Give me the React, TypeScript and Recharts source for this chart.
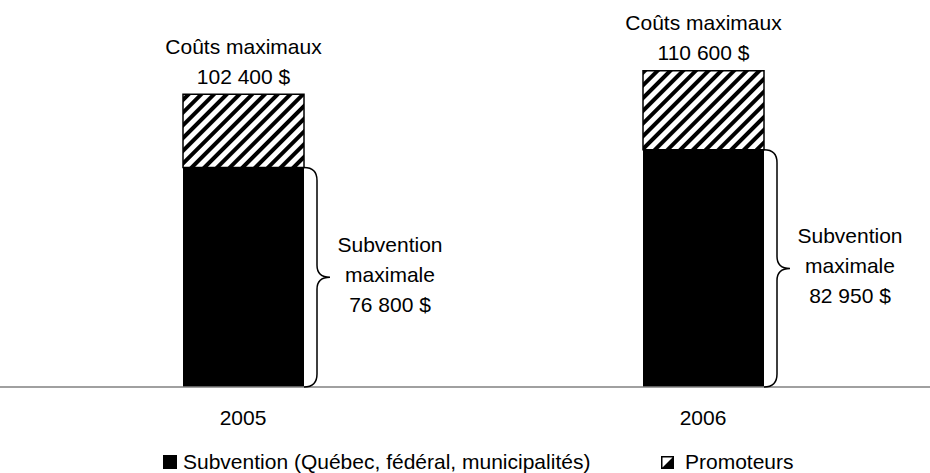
import { BarChart, Bar, XAxis, YAxis, LabelList, Legend } from "recharts";

const years = ["2005", "2006"];
const subvention = [76800, 82950];
const promoteurs = [25600, 27650];
const coutsMaximaux = [102400, 110600];

const data = years.map((year, i) => ({
  year,
  subvention: subvention[i],
  promoteurs: promoteurs[i],
  couts: coutsMaximaux[i],
}));

const FONT = "'Liberation Sans', Arial, sans-serif";
const FS = 21;

const fmt = (v: number) =>
  `${Math.floor(v / 1000)} ${String(v % 1000).padStart(3, "0")} $`;

const TopLabel = (props: any) => {
  const { x, y, width, index } = props;
  const cx = x + width / 2;
  return (
    <g fontFamily={FONT} fontSize={FS} fill="#000">
      <text x={cx} y={y - 48} textAnchor="middle" dominantBaseline="central">
        Coûts maximaux
      </text>
      <text x={cx} y={y - 18} textAnchor="middle" dominantBaseline="central">
        {fmt(coutsMaximaux[index])}
      </text>
    </g>
  );
};

const BraceLabel = (props: any) => {
  const { x, y, width, height, index } = props;
  const r = x + width;
  const t = y;
  const b = y + height;
  const m = (t + b) / 2;
  const vx = r + 13;
  const tip = r + 26;
  const d = `M ${r} ${t} Q ${vx} ${t} ${vx} ${t + 13} L ${vx} ${m - 12} Q ${vx} ${m} ${tip} ${m} Q ${vx} ${m} ${vx} ${m + 12} L ${vx} ${b - 13} Q ${vx} ${b} ${r} ${b}`;
  const tx = r + 86;
  return (
    <g>
      <path d={d} fill="none" stroke="#000" strokeWidth={1.5} />
      <g fontFamily={FONT} fontSize={FS} fill="#000" textAnchor="middle">
        <text x={tx} y={m - 33} dominantBaseline="central">Subvention</text>
        <text x={tx} y={m - 3} dominantBaseline="central">maximale</text>
        <text x={tx} y={m + 27} dominantBaseline="central">
          {fmt(subvention[index])}
        </text>
      </g>
    </g>
  );
};

const LegendContent = () => (
  <div
    style={{
      display: "flex",
      alignItems: "center",
      fontFamily: FONT,
      fontSize: FS,
      color: "#000",
      paddingLeft: 163,
      height: 24,
      lineHeight: "24px",
    }}
  >
    <div style={{ display: "flex", alignItems: "center", width: 498 }}>
      <svg width={14} height={14} style={{ marginRight: 6 }}>
        <rect x={0} y={0} width={14} height={14} fill="#000" />
      </svg>
      <span>Subvention (Québec, fédéral, municipalités)</span>
    </div>
    <div style={{ display: "flex", alignItems: "center" }}>
      <svg width={13} height={13} style={{ marginRight: 11 }}>
        <rect x={0.75} y={0.75} width={11.5} height={11.5} fill="#fff" stroke="#000" strokeWidth={1.5} />
        <polygon points="12,1 12,12 1,12" fill="#000" />
      </svg>
      <span>Promoteurs</span>
    </div>
  </div>
);

export default function App() {
  return (
    <div
      style={{
        position: "absolute",
        left: 0,
        top: 0,
        width: 930,
        height: 473,
        overflow: "hidden",
        background: "#fff",
      }}
    >
      <BarChart
        width={933}
        height={473}
        data={data}
        margin={{ top: 1, right: 0, bottom: 56, left: 0 }}
        barSize={121}
      >
        <defs>
          <pattern
            id="hatch"
            width="9"
            height="9"
            patternUnits="userSpaceOnUse"
            patternTransform="rotate(45)"
          >
            <rect width="9" height="9" fill="#fff" />
            <rect width="4" height="9" fill="#000" />
          </pattern>
        </defs>
        <XAxis
          dataKey="year"
          padding={{ left: 13, right: 0 }}
          axisLine={{ stroke: "#808080", strokeWidth: 1.5 }}
          tickLine={false}
          tickSize={0}
          tickMargin={23}
          tick={{ fill: "#000", fontSize: FS, fontFamily: FONT }}
        />
        <YAxis hide domain={[0, 135000]} allowDataOverflow />
        <Legend
          layout="horizontal"
          verticalAlign="middle"
          align="center"
          wrapperStyle={{ top: 450, left: 0, width: 930 }}
          content={LegendContent}
        />
        <Bar
          dataKey="subvention"
          stackId="a"
          fill="#000"
          isAnimationActive={false}
        >
          <LabelList dataKey="subvention" content={BraceLabel} />
        </Bar>
        <Bar
          dataKey="promoteurs"
          stackId="a"
          fill="url(#hatch)"
          stroke="#000"
          strokeWidth={1.5}
          isAnimationActive={false}
        >
          <LabelList dataKey="promoteurs" content={TopLabel} />
        </Bar>
      </BarChart>
    </div>
  );
}
